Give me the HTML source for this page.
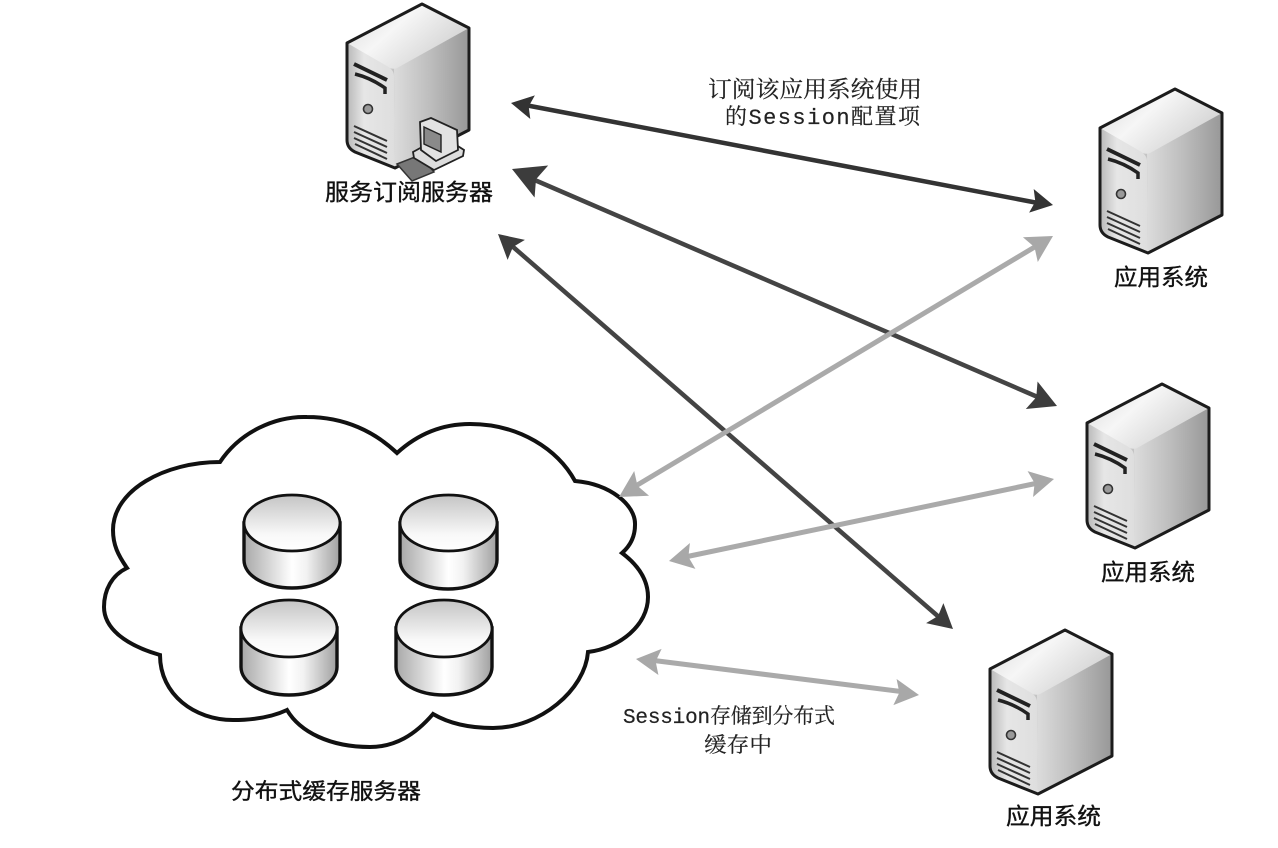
<!DOCTYPE html>
<html><head><meta charset="utf-8">
<style>
html,body{margin:0;padding:0;background:#fff;}
svg{display:block;}
text{font-family:"Liberation Serif","Noto Serif CJK SC",serif;fill:#222;}
.s{font-family:"Liberation Sans","Noto Sans CJK SC",sans-serif;font-size:23px;fill:#111;stroke:#111;stroke-width:.35px;}
.m{font-family:"Liberation Mono","Noto Serif CJK SC",monospace;font-size:21px;fill:#222;stroke:#222;stroke-width:.2px;}
</style></head><body>
<svg width="1278" height="848" viewBox="0 0 1278 848" xmlns="http://www.w3.org/2000/svg">
<defs>
<linearGradient id="top" x1="0" y1="0" x2="1" y2="0.6"><stop offset="0" stop-color="#d8d8d8"/><stop offset=".45" stop-color="#f6f6f6"/><stop offset="1" stop-color="#d0d0d0"/></linearGradient>
<linearGradient id="right" x1="0" y1="0" x2="1" y2="0"><stop offset="0" stop-color="#dcdcdc"/><stop offset=".5" stop-color="#bcbcbc"/><stop offset="1" stop-color="#989898"/></linearGradient>
<linearGradient id="front" x1="0" y1="0" x2="1" y2="0"><stop offset="0" stop-color="#b8b8b8"/><stop offset=".35" stop-color="#e6e6e6"/><stop offset="1" stop-color="#dedede"/></linearGradient>
<linearGradient id="cyl" x1="0" y1="0" x2="1" y2="0"><stop offset="0" stop-color="#a8a8a8"/><stop offset=".5" stop-color="#ffffff"/><stop offset=".65" stop-color="#f2f2f2"/><stop offset="1" stop-color="#a0a0a0"/></linearGradient>
<linearGradient id="cyt" x1="0" y1="0" x2="0" y2="1"><stop offset="0" stop-color="#c4c4c4"/><stop offset=".7" stop-color="#f8f8f8"/><stop offset="1" stop-color="#ffffff"/></linearGradient>
<g id="srv">
<path d="M0 39 L75 0 L122 24 L122 126 L48 164 L8 148 Q0 144 0 136 Z" fill="#c4c4c4"/>
<path d="M47 63 L122 24 L122 126 L48 164 Z" fill="url(#right)"/>
<path d="M0 39 L75 0 L122 24 L50 64 Q46 66 40 63 Z" fill="url(#top)"/>
<path d="M0 39 L40 62 Q47 66 47 72 L48 164 L8 148 Q0 144 0 136 Z" fill="url(#front)"/>
<path d="M0 39 L75 0 L122 24 L122 126 L48 164 L8 148 Q0 144 0 136 Z" fill="none" stroke="#1c1c1c" stroke-width="3" stroke-linejoin="round"/>
<path d="M7 60 L40 76" stroke="#222" stroke-width="4" fill="none"/>
<path d="M8 70 Q24 74 38 84 L38 90" stroke="#222" stroke-width="3.5" fill="none"/>
<circle cx="21" cy="105" r="4.5" fill="#999" stroke="#333" stroke-width="1.6"/>
<path d="M7 122 L40 137 M7 128 L40 143 M7 134 L40 149 M8 140 L40 155" stroke="#333" stroke-width="2" fill="none"/>
</g>
<g id="hd"><path d="M0 0 L-22 -12 L-18 0 L-22 12 Z"/></g>
</defs>
<rect width="1278" height="848" fill="#fff"/>

<!-- Cloud -->
<path d="M220 462 C240 432 275 416 307 417 C345 417 375 432 397 453 C420 432 445 424 470 424 C520 424 558 450 575 481 C610 484 636 505 635 525 C635 537 630 546 622 553 C638 565 648 580 648 597 C648 625 620 648 588 652 C585 690 540 728 493 728 C470 728 450 724 433 714 C415 735 395 747 370 747 C330 747 300 732 287 710 C270 718 250 720 233 720 C195 720 160 695 160 655 C125 645 104 628 104 607 C104 590 112 575 127 568 C118 555 113 545 113 530 C113 490 165 462 220 462 Z" fill="#fff" stroke="#111" stroke-width="4" stroke-linejoin="miter"/>

<!-- Cylinders -->
<g stroke="#111">
<path d="M244 523 L244 560 C244 576 266 588 292 588 C318 588 340 576 340 560 L340 523 Z" fill="url(#cyl)" stroke-width="3.4"/>
<ellipse cx="292" cy="523" rx="48" ry="28" fill="url(#cyt)" stroke-width="2.8"/>
<path d="M241 628 L241 667 C241 683 263 695 289 695 C315 695 337 683 337 667 L337 628 Z" fill="url(#cyl)" stroke-width="3.4"/>
<ellipse cx="289" cy="628.500" rx="48" ry="28.500" fill="url(#cyt)" stroke-width="2.800"/>
<path d="M400 523 L400 560 C400 576 422 589 448 589 C474 589 497 576 497 560 L497 523 Z" fill="url(#cyl)" stroke-width="3.4"/>
<ellipse cx="448.500" cy="523" rx="48.500" ry="28" fill="url(#cyt)" stroke-width="2.800"/>
<path d="M396 628 L396 667 C396 683 418 695 444 695 C470 695 492 683 492 667 L492 628 Z" fill="url(#cyl)" stroke-width="3.4"/>
<ellipse cx="444" cy="628.500" rx="48" ry="28.500" fill="url(#cyt)" stroke-width="2.800"/>
</g>

<!-- Servers -->
<use href="#srv" transform="translate(347,4)"/>
<use href="#srv" transform="translate(1100,89)"/>
<use href="#srv" transform="translate(1087,384)"/>
<use href="#srv" transform="translate(990,630)"/>

<!-- Small computer on subscription server -->
<path d="M397 164 L420 155 L434 172 L412 181 Z" fill="#777" stroke="#333" stroke-width="1.500"/>
<path d="M413 152 L442 136 L464 150 L463 156 L434 170 L414 158 Z" fill="#ddd" stroke="#222" stroke-width="1.800"/>
<path d="M420 122 L431 118 L457 130 L458 150 L436 161 L421 150 Z" fill="#e2e2e2" stroke="#222" stroke-width="1.800"/>
<path d="M424 127 L441 135 L441 152 L424 144 Z" fill="#8a8a8a" stroke="#222" stroke-width="1.400"/>

<!-- Arrows -->
<g fill="none">
<path d="M525 105 L1038 203" stroke="#333" stroke-width="4.500"/>
<path d="M530 178 L1040 398" stroke="#444" stroke-width="4.500"/>
<path d="M512 246 L940 618" stroke="#444" stroke-width="4.500"/>
<path d="M634 487 L1038 245" stroke="#aaa" stroke-width="5"/>
<path d="M685 557 L1038 483" stroke="#aaa" stroke-width="5"/>
<path d="M650 660 L905 692" stroke="#aaa" stroke-width="5"/>
</g>
<g fill="#333">
<use href="#hd" transform="translate(511,103) rotate(191)"/>
<use href="#hd" transform="translate(1053,205) rotate(11)"/>
</g>
<g fill="#3c3c3c">
<use href="#hd" transform="translate(512,169) rotate(203) scale(1.450)"/>
<use href="#hd" transform="translate(1057,406) rotate(23) scale(1.250)"/>
<use href="#hd" transform="translate(498,234) rotate(221) scale(1.100)"/>
<use href="#hd" transform="translate(953,629) rotate(41) scale(1.100)"/>
</g>
<g fill="#a8a8a8">
<use href="#hd" transform="translate(619,497) rotate(149) scale(1.200)"/>
<use href="#hd" transform="translate(1053,236) rotate(-31) scale(1.200)"/>
<use href="#hd" transform="translate(669,561) rotate(168) scale(1.100)"/>
<use href="#hd" transform="translate(1054,479) rotate(-12) scale(1.100)"/>
<use href="#hd" transform="translate(636,659) rotate(187) scale(1.100)"/>
<use href="#hd" transform="translate(919,695) rotate(7) scale(1.100)"/>
</g>

<!-- Labels -->
<text class="s" x="325" y="200" textLength="168" lengthAdjust="spacingAndGlyphs">服务订阅服务器</text>
<text class="s" x="1114" y="285" textLength="94" lengthAdjust="spacingAndGlyphs">应用系统</text>
<text class="s" x="1101" y="580" textLength="94" lengthAdjust="spacingAndGlyphs">应用系统</text>
<text class="s" x="1006" y="824" textLength="95" lengthAdjust="spacingAndGlyphs">应用系统</text>
<text class="s" x="231" y="799" textLength="190" lengthAdjust="spacingAndGlyphs" style="font-size:22px">分布式缓存服务器</text>
<text class="m" x="708" y="97" textLength="214" lengthAdjust="spacingAndGlyphs" style="font-size:23px">订阅该应用系统使用</text>
<text class="m" x="725" y="124" textLength="195" lengthAdjust="spacing" style="font-size:22px">的Session配置项</text>
<text class="m" x="623" y="723" textLength="212" lengthAdjust="spacing">Session存储到分布式</text>
<text class="m" x="704" y="752" textLength="68" lengthAdjust="spacingAndGlyphs">缓存中</text>
</svg>
</body></html>
